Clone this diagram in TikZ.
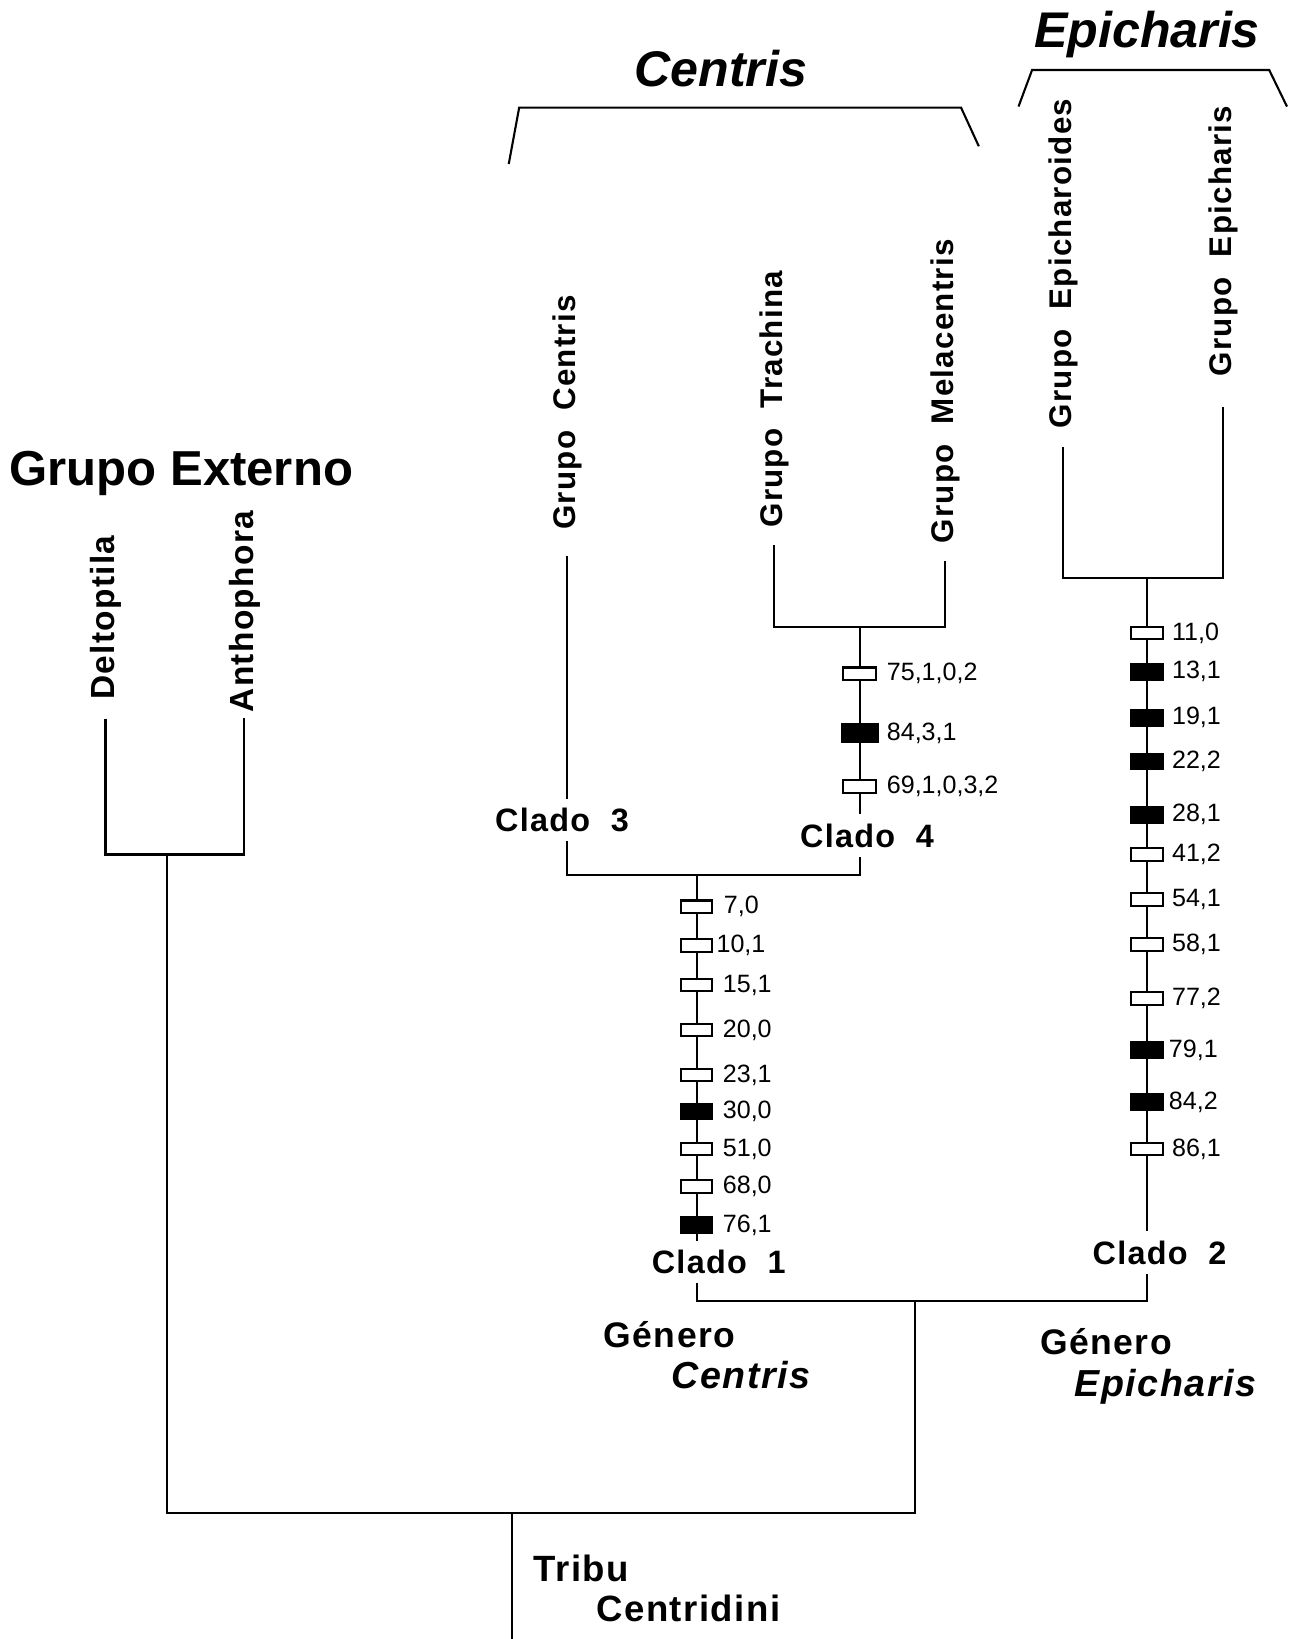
\documentclass[tikz,border=0pt]{standalone}
\usepackage{fontspec}
\setmainfont{Liberation Sans}
\newfontfamily\wide{Liberation Sans}[LetterSpace=4]
\usetikzlibrary{positioning}

\begin{document}
\begin{tikzpicture}[x=1pt, y=1pt, line width=2pt,
    leaf/.style={rotate=90, anchor=west, inner sep=0pt, outer sep=#1, font=\wide\bfseries\fontsize{30}{30}\selectfont},
    leaf/.default=15pt,
    clado/.style={inner sep=0pt, outer sep=9pt, font=\wide\bfseries\fontsize{31}{31}\selectfont},
    wbox/.style={draw, fill=white, minimum width=30pt, minimum height=12pt, inner sep=0pt, outer sep=0pt},
    bbox/.style={wbox, fill=black, minimum height=15pt},
    num/.style={inner sep=0pt, font=\fontsize{24}{24}\selectfont},
    title/.style={inner sep=0pt, anchor=base, font=\bfseries\itshape\fontsize{48}{48}\selectfont},
    gen/.style={inner sep=0pt, anchor=base west, font=\wide\bfseries\fontsize{34}{34}\selectfont}]
  \useasboundingbox (0,0) rectangle (1240,-1569);

  \node[title] (tc) at (690,-83) {Centris};
  \node[title] (te) at (1098,-45) {Epicharis};
  \draw (487,-157) -- (497,-103) -- (920,-103) -- (937,-140);
  \draw (975,-102) -- (988,-67) -- (1215,-67) -- (1232,-102);

  \node[inner sep=0pt, anchor=base west, font=\bfseries\fontsize{47}{47}\selectfont] (ext) at (8,-465) {Grupo Externo};

  \node[leaf=18pt, font=\wide\bfseries\fontsize{32}{32}\selectfont] (dl) at (101,-688) {Deltoptila};
  \node[leaf=5pt, font=\wide\bfseries\fontsize{32}{32}\selectfont] (ap) at (234,-687) {Anthophora};
  \node[leaf=25pt] (gc) at (543,-532) {Grupo\ \ Centris};
  \node[leaf=17pt] (gt) at (741,-522) {Grupo\ \ Trachina};
  \node[leaf=17pt] (gm) at (905,-537) {Grupo\ \ Melacentris};
  \node[leaf=18pt] (ge) at (1018,-428) {Grupo\ \ Epicharoides};
  \node[leaf=30pt] (gp) at (1171,-390) {Grupo\ \ Epicharis};

  \coordinate (og) at (160,-818);
  \coordinate (n4) at (823,-600);
  \coordinate (n2) at (1098,-553);
  \coordinate (n1) at (667,-838);
  \coordinate (ng) at (876,-1245);
  \coordinate (rt) at (490,-1448);
  \coordinate (base) at (490,-1569);

  \node[clado] (c3) at (538,-785) {Clado\ \ 3};
  \node[clado] (c4) at (830,-800) {Clado\ \ 4};
  \node[clado] (c1) at (688,-1208) {Clado\ \ 1};
  \node[clado] (c2) at (1110,-1199) {Clado\ \ 2};

  \draw (dl.west) |- (og) -| (ap.west);
  \draw (og) |- (rt) -| (ng);
  \draw (rt) -- (base);
  \draw (gc.west) -- (gc.west |- c3.north);
  \draw (gc.west |- c3.south) |- (n1) -| (n4 |- c4.south);
  \draw (gt.west) |- (n4) -| (gm.west);
  \draw (n4) -- (n4 |- c4.north);
  \draw (ge.west) |- (n2) -| (gp.west);
  \draw (n2) -- (n2 |- c2.north);
  \draw (n1) -- (n1 |- c1.north);
  \draw (n1 |- c1.south) |- (ng) -| (n2 |- c2.south);

  \node[wbox] (a1) at (667,-868) {}; \node[num, right=10pt of a1] (a1t) {7,0};
  \node[wbox] (a2) at (667,-905) {}; \node[num, right=3pt of a2] (a2t) {10,1};
  \node[wbox] (a3) at (667,-943) {}; \node[num, right=9pt of a3] (a3t) {15,1};
  \node[wbox] (a4) at (667,-986) {}; \node[num, right=9pt of a4] (a4t) {20,0};
  \node[wbox] (a5) at (667,-1029) {}; \node[num, right=9pt of a5] (a5t) {23,1};
  \node[bbox] (a6) at (667,-1064) {}; \node[num, right=9pt of a6] (a6t) {30,0};
  \node[wbox] (a7) at (667,-1100) {}; \node[num, right=9pt of a7] (a7t) {51,0};
  \node[wbox] (a8) at (667,-1136) {}; \node[num, right=9pt of a8] (a8t) {68,0};
  \node[bbox] (a9) at (667,-1173) {}; \node[num, right=9pt of a9] (a9t) {76,1};

  \node[wbox, minimum width=32pt] (d1) at (823,-645) {}; \node[num, right=9pt of d1] (d1t) {75,1,0,2};
  \node[bbox, minimum width=34pt, minimum height=17pt] (d2) at (823,-702) {}; \node[num, right=8pt of d2] (d2t) {84,3,1};
  \node[wbox, minimum width=32pt] (d3) at (823,-753) {}; \node[num, right=9pt of d3] (d3t) {69,1,0,3,2};

  \node[wbox] (b1) at (1098,-606) {}; \node[num, right=8pt of b1] (b1t) {11,0};
  \node[bbox] (b2) at (1098,-643) {}; \node[num, right=8pt of b2] (b2t) {13,1};
  \node[bbox] (b3) at (1098,-687) {}; \node[num, right=8pt of b3] (b3t) {19,1};
  \node[bbox] (b4) at (1098,-729) {}; \node[num, right=8pt of b4] (b4t) {22,2};
  \node[bbox] (b5) at (1098,-780) {}; \node[num, right=8pt of b5] (b5t) {28,1};
  \node[wbox] (b6) at (1098,-818) {}; \node[num, right=8pt of b6] (b6t) {41,2};
  \node[wbox] (b7) at (1098,-861) {}; \node[num, right=8pt of b7] (b7t) {54,1};
  \node[wbox] (b8) at (1098,-904) {}; \node[num, right=8pt of b8] (b8t) {58,1};
  \node[wbox] (b9) at (1098,-956) {}; \node[num, right=8pt of b9] (b9t) {77,2};
  \node[bbox] (b10) at (1098,-1005) {}; \node[num, right=5pt of b10] (b10t) {79,1};
  \node[bbox] (b11) at (1098,-1055) {}; \node[num, right=5pt of b11] (b11t) {84,2};
  \node[wbox] (b12) at (1098,-1100) {}; \node[num, right=8pt of b12] (b12t) {86,1};

  \node[gen] (gn1) at (577,-1290) {Género};
  \node[gen, font=\wide\bfseries\itshape\fontsize{36}{36}\selectfont] (gn2) at (642,-1329) {Centris};
  \node[gen] (gn3) at (995,-1297) {Género};
  \node[gen, font=\wide\bfseries\itshape\fontsize{36}{36}\selectfont] (gn4) at (1028,-1337) {Epicharis};
  \node[gen, font=\wide\bfseries\fontsize{35}{35}\selectfont] (tr1) at (510,-1514) {Tribu};
  \node[gen, font=\wide\bfseries\fontsize{35}{35}\selectfont] (tr2) at (570,-1552) {Centridini};
\end{tikzpicture}
\end{document}
